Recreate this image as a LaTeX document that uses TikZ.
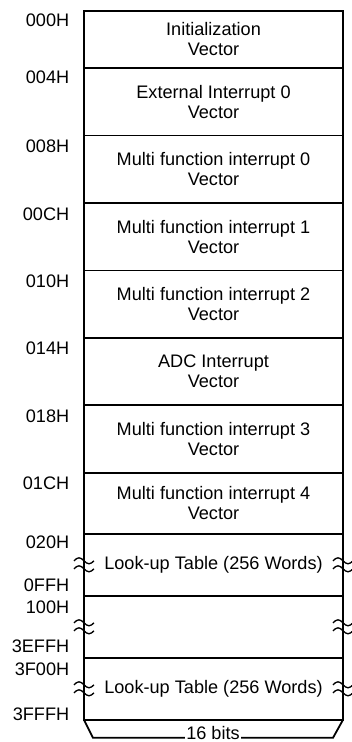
\documentclass[tikz,border=0pt]{standalone}
\usepackage{fontspec}
\setmainfont{Liberation Sans}
\usetikzlibrary{positioning,calc}

\tikzset{
  cell/.style={draw, line width=1.35pt, outer sep=0pt, inner sep=0pt,
    minimum width=194.25pt, minimum height=#1, align=center},
  cell/.default=50.6pt,
  addr/.style={inner sep=0pt, anchor=base east},
  brk/.pic={
    \draw[line width=1pt] (-10,-4) sin (-5,-7) cos (0,-4) sin (5,-1) cos (10,-4);
    \draw[line width=1pt] (-10,4) sin (-5,1) cos (0,4) sin (5,7) cos (10,4);
  }
}

\begin{document}
\begin{tikzpicture}[x=0.75pt, y=-0.75pt, font=\fontsize{13.6}{15}\selectfont]
    \useasboundingbox (0,0) rectangle (351,742);
    % vector table
    \node[cell=42.75pt, anchor=north west] (vec0) at (84,11) {Initialization\\Vector};
    \node[cell, below=0pt of vec0] (vec1) {External Interrupt 0\\Vector};
    \node[cell, below=0pt of vec1] (vec2) {Multi function interrupt 0\\Vector};
    \node[cell, below=0pt of vec2] (vec3) {Multi function interrupt 1\\Vector};
    \node[cell, below=0pt of vec3] (vec4) {Multi function interrupt 2\\Vector};
    \node[cell, below=0pt of vec4] (vec5) {ADC Interrupt\\Vector};
    \node[cell, below=0pt of vec5] (vec6) {Multi function interrupt 3\\Vector};
    \node[cell=45.75pt, below=0pt of vec6] (vec7) {Multi function interrupt 4\\Vector};
    % look-up tables
    \node[cell=46.5pt, below=0pt of vec7] (lut0) {Look-up Table (256 Words)};
    \node[cell=46.5pt, below=0pt of lut0] (free) {};
    \node[cell=46.5pt, below=0pt of free] (lut1) {Look-up Table (256 Words)};

    % addresses
    \node[addr] (a000) at ($(vec0.north west)+(-14.5,16)$) {000H};
    \node[addr] (a004) at ($(vec1.north west)+(-14.5,16)$) {004H};
    \node[addr] (a008) at ($(vec2.north west)+(-14.5,17)$) {008H};
    \node[addr] (a00c) at ($(vec3.north west)+(-14.5,18)$) {00CH};
    \node[addr] (a010) at ($(vec4.north west)+(-14.5,17)$) {010H};
    \node[addr] (a014) at ($(vec5.north west)+(-14.5,17)$) {014H};
    \node[addr] (a018) at ($(vec6.north west)+(-14.5,17)$) {018H};
    \node[addr] (a01c) at ($(vec7.north west)+(-14.5,17)$) {01CH};
    \node[addr] (a020) at ($(lut0.north west)+(-14.5,15)$) {020H};
    \node[addr] (a0ff) at ($(lut0.south west)+(-14.5,-4)$) {0FFH};
    \node[addr] (a100) at ($(free.north west)+(-14.5,18)$) {100H};
    \node[addr] (a3eff) at ($(free.south west)+(-14.5,-5)$) {3EFFH};
    \node[addr] (a3f00) at ($(lut1.north west)+(-14.5,18)$) {3F00H};
    \node[addr] (a3fff) at ($(lut1.south west)+(-14.5,1)$) {3FFFH};

    % breaks
    \foreach \c in {lut0, free, lut1} {
        \pic at (\c.west) {brk};
        \pic at (\c.east) {brk};
    }

    % word width
    \coordinate (bl) at ($(lut1.south west)+(9,18)$);
    \coordinate (br) at ($(lut1.south east)+(-10,18)$);
    \draw[line width=1.35pt] (lut1.south west) -- (bl) -- (br) -- (lut1.south east);
    \node[fill=white, inner xsep=1pt, inner ysep=0pt, anchor=base] (bits)
        at ($(bl)!0.5!(br)+(0,1.5)$) {16 bits};
\end{tikzpicture}
\end{document}
